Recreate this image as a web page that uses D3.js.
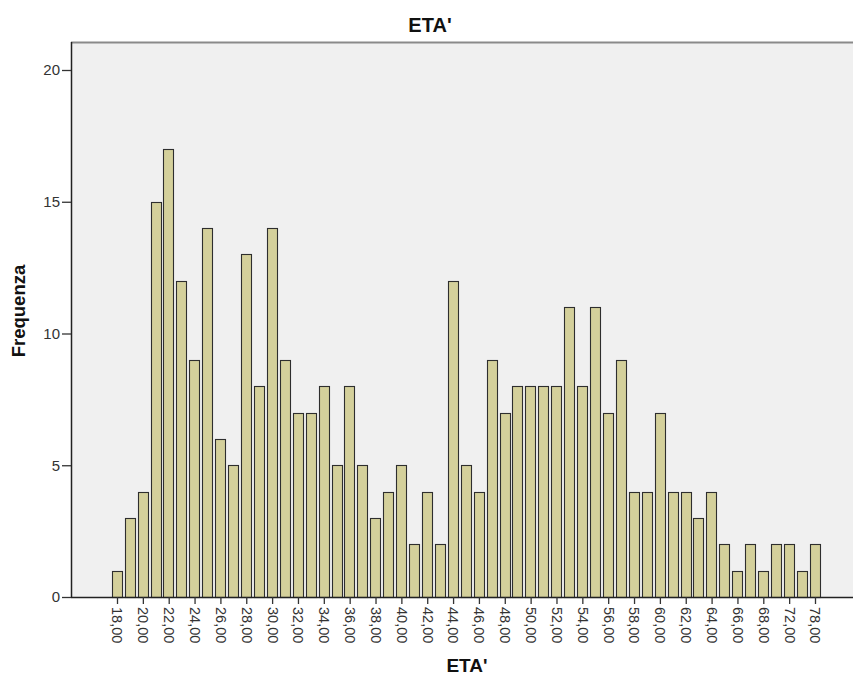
<!DOCTYPE html>
<html><head><meta charset="utf-8">
<script src="https://cdn.jsdelivr.net/npm/d3@7"></script>
<style>body{margin:0;background:#fff}svg{display:block}</style>
</head><body>
<svg id="c" width="853" height="678"></svg>
<script>
const ages = [18,19,20,21,22,23,24,25,26,27,28,29,30,31,32,33,34,35,36,37,38,39,40,41,42,43,44,45,46,47,48,49,50,51,52,53,54,55,56,57,58,59,60,61,62,63,64,65,66,67,68,70,72,75,78];
const counts = [1,3,4,15,17,12,9,14,6,5,13,8,14,9,7,7,8,5,8,5,3,4,5,2,4,2,12,5,4,9,7,8,8,8,8,11,8,11,7,9,4,4,7,4,4,3,4,2,1,2,1,2,2,1,2];
const yTicks = [0,5,10,15,20];
const labeledAges = ages.filter((d,i)=>i%2===0);
const title = "ETA'", xTitle = "ETA'", yTitle = "Frequenza";

const svg = d3.select("#c");
const pL = 71, pT = 42, pR = 853, pB = 597;

svg.append("rect").attr("x",pL).attr("y",pT).attr("width",pR-pL).attr("height",pB-pT).attr("fill","#f0f0f0");
svg.append("line").attr("x1",pL).attr("x2",pR).attr("y1",pT+0.5).attr("y2",pT+0.5).attr("stroke","#8a8a8a").attr("stroke-width",2);

const x = d3.scalePoint().domain(ages).range([117,815]);
const bw = x.step()*0.81;
const y = d3.scaleLinear().domain([0,20]).range([pB,70]);

svg.append("g").selectAll("rect").data(ages).join("rect")
  .attr("x",(d)=>Math.round(x(d)-bw/2)+0.5)
  .attr("y",(d,i)=>Math.round(y(counts[i]))+0.5)
  .attr("width",Math.round(bw))
  .attr("height",(d,i)=>Math.round(pB-y(counts[i])))
  .attr("fill","#d4d09b").attr("stroke","#2e2e2e").attr("stroke-width",1.1);

const ya = svg.append("g").attr("transform",`translate(${pL},0)`)
  .call(d3.axisLeft(y).tickValues(yTicks).tickSize(9).tickPadding(2));
ya.select(".domain").attr("stroke","#222").attr("stroke-width",1.5).attr("d",`M0.5,${pT}V${pB}`);
ya.selectAll(".tick line").attr("stroke","#333").attr("stroke-width",1.3);
ya.selectAll("text").attr("font-family","Liberation Sans, Arial, sans-serif").attr("font-size",15).attr("fill","#333");

const xa = svg.append("g").attr("transform",`translate(0,${pB})`)
  .call(d3.axisBottom(x).tickValues(labeledAges).tickSize(7).tickFormat(d=>d+",00"));
xa.select(".domain").attr("stroke","#222").attr("stroke-width",1.5).attr("d",`M${pL},0.5H${pR}`);
xa.selectAll(".tick line").attr("stroke","#333").attr("stroke-width",1.3);
xa.selectAll("text").attr("font-family","Liberation Sans, Arial, sans-serif").attr("font-size",14.5).attr("fill","#333")
  .attr("transform","rotate(90)").attr("text-anchor","start").attr("x",10).attr("y",0).attr("dy","0.35em");

svg.append("text").attr("x",430).attr("y",32).attr("text-anchor","middle")
  .attr("font-family","Liberation Sans, Arial, sans-serif").attr("font-weight","bold").attr("font-size",20).attr("fill","#111").text(title);
svg.append("text").attr("x",467).attr("y",672).attr("text-anchor","middle")
  .attr("font-family","Liberation Sans, Arial, sans-serif").attr("font-weight","bold").attr("font-size",19).attr("fill","#111").text(xTitle);
svg.append("text").attr("transform","translate(25,311) rotate(-90)").attr("text-anchor","middle")
  .attr("font-family","Liberation Sans, Arial, sans-serif").attr("font-weight","bold").attr("font-size",18.5).attr("fill","#111").text(yTitle);
</script>
</body></html>
